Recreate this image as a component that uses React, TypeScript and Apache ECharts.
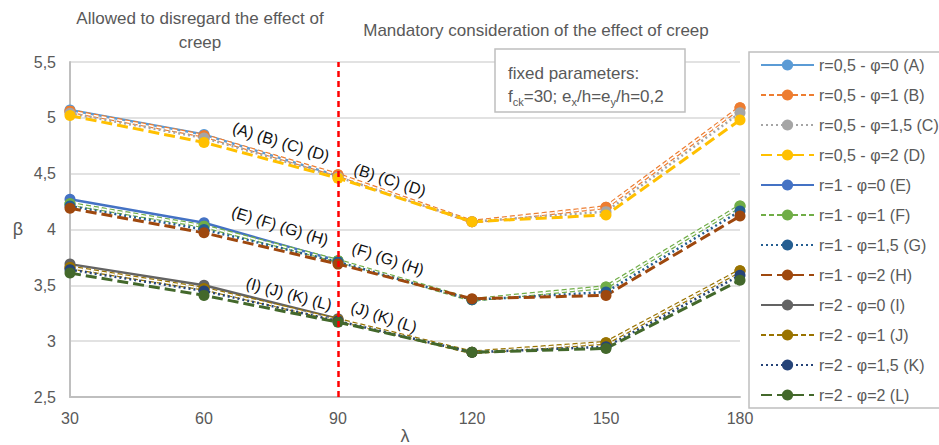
import React, { useEffect, useRef } from "react";
import * as echarts from "echarts";

// λ values on the x axis
const lambdas = [30, 60, 90, 120, 150, 180];
const yTicks = [2.5, 3, 3.5, 4, 4.5, 5, 5.5];

// β values per series (A, E, I end at λ = 90)
const betaA = [5.07, 4.85, 4.48];
const betaB = [5.06, 4.84, 4.49, 4.07, 4.2, 5.09];
const betaC = [5.04, 4.82, 4.47, 4.07, 4.16, 5.045];
const betaD = [5.02, 4.78, 4.46, 4.07, 4.13, 4.98];
const betaE = [4.27, 4.06, 3.72];
const betaF = [4.23, 4.03, 3.72, 3.37, 3.485, 4.21];
const betaG = [4.21, 4.0, 3.71, 3.37, 3.44, 4.165];
const betaH = [4.19, 3.97, 3.69, 3.38, 3.41, 4.12];
const betaI = [3.69, 3.5, 3.2];
const betaJ = [3.66, 3.47, 3.19, 2.9, 2.985, 3.63];
const betaK = [3.64, 3.45, 3.18, 2.9, 2.95, 3.59];
const betaL = [3.61, 3.41, 3.17, 2.9, 2.935, 3.545];

const seriesNames = [
  "r=0,5 - φ=0 (A)",
  "r=0,5 - φ=1 (B)",
  "r=0,5 - φ=1,5 (C)",
  "r=0,5 - φ=2 (D)",
  "r=1 - φ=0 (E)",
  "r=1 - φ=1 (F)",
  "r=1 - φ=1,5 (G)",
  "r=1 - φ=2 (H)",
  "r=2 - φ=0 (I)",
  "r=2 - φ=1 (J)",
  "r=2 - φ=1,5 (K)",
  "r=2 - φ=2 (L)",
];
const seriesValues = [betaA, betaB, betaC, betaD, betaE, betaF, betaG, betaH, betaI, betaJ, betaK, betaL];
const seriesColors = [
  "#5B9BD5", "#ED7D31", "#A5A5A5", "#FFC000",
  "#4472C4", "#70AD47", "#255E91", "#9E480E",
  "#636363", "#997300", "#264478", "#43682B",
];
const seriesKinds = ["solid", "hollow", "dot", "long", "solid", "hollow", "dot", "long", "solid", "hollow", "dot", "long"];

const FONT = "Liberation Sans, Arial, sans-serif";
const GRAY = "#595959";

function pairs(vals: number[]) {
  return vals.map((v, i) => [lambdas[i], v]);
}

function buildSeries() {
  const out: any[] = [];
  seriesNames.forEach((name, i) => {
    const kind = seriesKinds[i];
    const color = seriesColors[i];
    const data = pairs(seriesValues[i]);
    let lineStyle: any = { color, width: 2.5, type: "solid" };
    if (kind === "hollow") lineStyle = { color, width: 4, type: [5, 3], cap: "butt" };
    if (kind === "dot") lineStyle = { color, width: 2.5, type: [2, 3], cap: "butt" };
    if (kind === "long") lineStyle = { color, width: 3, type: [11, 5], cap: "butt" };
    const base: any = {
      name,
      type: "line",
      data,
      symbol: "circle",
      symbolSize: 11,
      showSymbol: true,
      itemStyle: { color },
      lineStyle,
      emphasis: { disabled: true },
    };
    if (i === 0) {
      base.markLine = {
        silent: true,
        symbol: ["none", "none"],
        label: { show: false },
        lineStyle: { color: "#FF0000", type: [6, 4], width: 2.5 },
        data: [{ xAxis: 90 }],
      };
    }
    out.push(base);
    if (kind === "hollow") {
      out.push({
        name: name + " overlay",
        type: "line",
        data,
        symbol: "none",
        silent: true,
        lineStyle: { color: "#FFFFFF", width: 1.6, type: [5, 3], cap: "butt" },
        emphasis: { disabled: true },
      });
      out.push({
        name: name + " markers",
        type: "line",
        data,
        symbol: "circle",
        symbolSize: 11,
        itemStyle: { color },
        lineStyle: { width: 0, opacity: 0 },
        silent: true,
        emphasis: { disabled: true },
      });
    }
  });
  return out;
}

function rotText(text: string, x: number, y: number, deg: number) {
  return {
    type: "text",
    x,
    y,
    rotation: (-deg * Math.PI) / 180,
    z: 20,
    style: {
      text,
      fill: "#111111",
      font: `16px ${FONT}`,
      align: "center",
      verticalAlign: "middle",
    },
  };
}

function plainText(text: string, x: number, y: number, size: number, align = "center") {
  return {
    type: "text",
    x,
    y,
    z: 6,
    style: { text, fill: GRAY, font: `${size}px ${FONT}`, align, verticalAlign: "middle" },
  };
}

export default function App() {
  const ref = useRef<HTMLDivElement>(null);
  useEffect(() => {
    document.body.style.margin = "0";
    const chart = echarts.init(ref.current!, null, { renderer: "svg", width: 939, height: 445 });
    chart.setOption({
      animation: false,
      backgroundColor: "#FFFFFF",
      grid: { left: 70, top: 62, width: 670, height: 335, containLabel: false },
      xAxis: {
        type: "value",
        min: 30,
        max: 180,
        interval: 30,
        axisLine: { show: true, lineStyle: { color: "#BFBFBF", width: 2 } },
        axisTick: { show: false },
        splitLine: { show: false },
        axisLabel: { color: GRAY, fontSize: 16, fontFamily: FONT, margin: 13 },
      },
      yAxis: {
        type: "value",
        min: yTicks[0],
        max: yTicks[yTicks.length - 1],
        interval: 0.5,
        axisLine: { show: true, lineStyle: { color: "#BFBFBF", width: 2 } },
        axisTick: { show: false },
        splitLine: { show: true, lineStyle: { color: "#D9D9D9", width: 1.5 } },
        axisLabel: {
          color: GRAY,
          fontSize: 16,
          fontFamily: FONT,
          margin: 14,
          formatter: (v: number) => String(v).replace(".", ","),
        },
      },
      legend: {
        orient: "vertical",
        left: 760,
        top: 57,
        padding: 0,
        itemWidth: 53,
        itemHeight: 14,
        itemGap: 14,
        selectedMode: false,
        data: seriesNames,
        textStyle: { color: GRAY, fontSize: 16, fontFamily: FONT },
      },
      graphic: [
        {
          type: "rect",
          z: 5,
          shape: { x: 749, y: 52, width: 220, height: 356 },
          style: { fill: "none", stroke: "#BFBFBF", lineWidth: 1.5 },
        },
        {
          type: "rect",
          z: 5,
          shape: { x: 495, y: 49, width: 190, height: 63 },
          style: { fill: "#FFFFFF", stroke: "#BFBFBF", lineWidth: 1.5 },
        },
        plainText("fixed parameters:", 508, 73, 17, "left"),
        {
          type: "text",
          z: 6,
          x: 508,
          y: 96,
          style: {
            text: "f{s|ck}=30; e{s|x}/h=e{s|y}/h=0,2",
            fill: GRAY,
            font: `17px ${FONT}`,
            verticalAlign: "middle",
            rich: {
              s: { fontSize: 11, fill: GRAY, fontFamily: FONT, verticalAlign: "bottom", lineHeight: 22, padding: [9, 0, 0, 0] },
            },
          },
        },
        plainText("Allowed to disregard the effect of", 200, 18, 17),
        plainText("creep", 200, 42, 17),
        plainText("Mandatory consideration of the effect of creep", 536, 30, 17),
        plainText("β", 18, 229, 18),
        plainText("λ", 405, 436, 18),
        rotText("(A) (B) (C) (D)", 281, 142, 17),
        rotText("(B) (C) (D)", 390, 180, 18),
        rotText("(E) (F) (G) (H)", 280, 226, 17),
        rotText("(F) (G) (H)", 388, 259, 18),
        rotText("(I) (J) (K) (L)", 289, 294, 15),
        rotText("(J) (K) (L)", 384, 317, 18),
      ],
      series: buildSeries(),
    });
    return () => chart.dispose();
  }, []);
  return <div ref={ref} style={{ position: "absolute", left: 0, top: 0, width: 939, height: 445 }} />;
}
